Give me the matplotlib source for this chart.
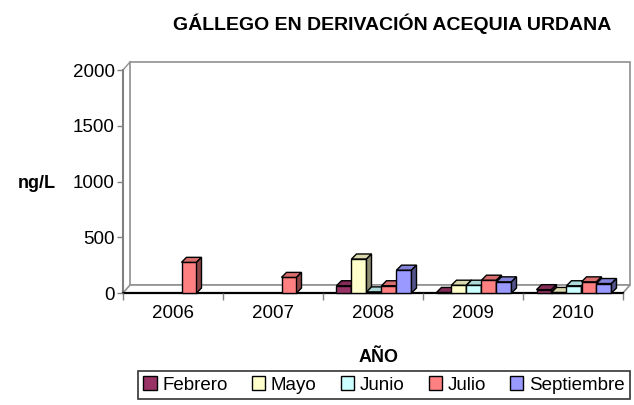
import numpy as np
import matplotlib
matplotlib.use('Agg')
import matplotlib.pyplot as plt
from matplotlib.patches import Polygon, Rectangle, Patch

plt.rcParams['font.family'] = ['Liberation Sans', 'DejaVu Sans']

# datos
years = ['2006', '2007', '2008', '2009', '2010']
months = ['Febrero', 'Mayo', 'Junio', 'Julio', 'Septiembre']
febrero = [np.nan, np.nan, 65, 5, 30]
mayo = [np.nan, np.nan, 305, 70, 5]
junio = [np.nan, np.nan, 10, 70, 65]
julio = [275, 140, 65, 115, 100]
septiembre = [np.nan, np.nan, 205, 100, 85]
series = [febrero, mayo, junio, julio, septiembre]
colors = ['#993366', '#FFFFCC', '#CCFFFF', '#FF8080', '#9999FF']
yticks = [0, 500, 1000, 1500, 2000]

W, H = 634, 405
fig = plt.figure(figsize=(W / 100, H / 100), dpi=100)
ax = fig.add_axes([123 / W, (H - 293) / H, 500 / W, 223 / H])
ax.set_xlim(0, 5)
ax.set_ylim(0, 2000)
for s in ax.spines.values():
    s.set_visible(False)

px = 5 / 500          # unidades por pixel, x
py = 2000 / 223       # unidades por pixel, y

# paredes (pseudo 3D)
wdx, wdy = 7 * px, 8 * py
ax.add_patch(Polygon([(wdx, wdy), (5 + wdx, wdy), (5 + wdx, 2000 + wdy), (wdx, 2000 + wdy)],
                     closed=True, facecolor='white', edgecolor='#909090', lw=1.2, clip_on=False, zorder=0))
ax.add_patch(Polygon([(0, 0), (5, 0), (5 + wdx, wdy), (wdx, wdy)],
                     closed=True, facecolor='white', edgecolor='#909090', lw=1.2, clip_on=False, zorder=0.5))
ax.plot([0, wdx], [2000, 2000 + wdy], color='#909090', lw=1, clip_on=False, zorder=0.6)
ax.plot([0, 0], [0, 2000], color='#808080', lw=1.5, clip_on=False, zorder=0.7)
ax.plot([0, 5], [0, 0], color='black', lw=1.6, clip_on=False, zorder=0.7)

# barras
bw = 0.15
bdx, bdy = 5 * px, 5 * py
z = 1
for gi in range(len(years)):
    for si, vals in enumerate(series):
        h = vals[gi]
        if np.isnan(h):
            continue
        c = np.array(matplotlib.colors.to_rgb(colors[si]))
        x0 = gi + 0.5 + (si - 2) * bw - bw / 2 + 0.01
        x1 = x0 + bw
        ax.add_patch(Rectangle((x0, 0), bw, h, facecolor=c, edgecolor='black', lw=1,
                               clip_on=False, zorder=z))
        ax.add_patch(Polygon([(x0, h), (x1, h), (x1 + bdx, h + bdy), (x0 + bdx, h + bdy)],
                             closed=True, facecolor=c * 0.85, edgecolor='black', lw=1,
                             clip_on=False, zorder=z))
        ax.add_patch(Polygon([(x1, 0), (x1 + bdx, bdy), (x1 + bdx, h + bdy), (x1, h)],
                             closed=True, facecolor=c * 0.55, edgecolor='black', lw=1,
                             clip_on=False, zorder=z))
        z += 1

ax.set_yticks(yticks)
ax.set_yticklabels([str(v) for v in yticks], fontsize=13.5)
ax.set_xticks(range(6))
ax.set_xticklabels([])
ax.set_xticks(np.arange(5) + 0.5, minor=True)
ax.set_xticklabels(years, minor=True, fontsize=13.5)
ax.tick_params(axis='y', length=4, width=1, color='#808080', pad=2)
ax.tick_params(axis='x', which='major', length=5, width=1, color='#808080')
ax.tick_params(axis='x', which='minor', length=0, pad=9)

fig.text(392 / W, 1 - 24 / H, 'GÁLLEGO EN DERIVACIÓN ACEQUIA URDANA',
         ha='center', va='center', fontsize=14, fontweight='bold')
fig.text(37 / W, 1 - 183 / H, 'ng/L', ha='center', va='center', fontsize=13, fontweight='bold')
fig.text(379 / W, 1 - 357 / H, 'AÑO', ha='center', va='center', fontsize=13, fontweight='bold')

handles = [Patch(facecolor=c, edgecolor='black', lw=1) for c in colors]
leg = fig.legend(handles, months, loc='center', bbox_to_anchor=(384 / W, 1 - 385 / H),
                 ncol=5, fontsize=13.5, frameon=True, fancybox=False, edgecolor='black',
                 handlelength=0.7, handleheight=0.7, handletextpad=0.3, columnspacing=1.3,
                 borderpad=0.3, borderaxespad=0)
leg.get_frame().set_linewidth(1.2)

fig.savefig('out.png', dpi=100)
